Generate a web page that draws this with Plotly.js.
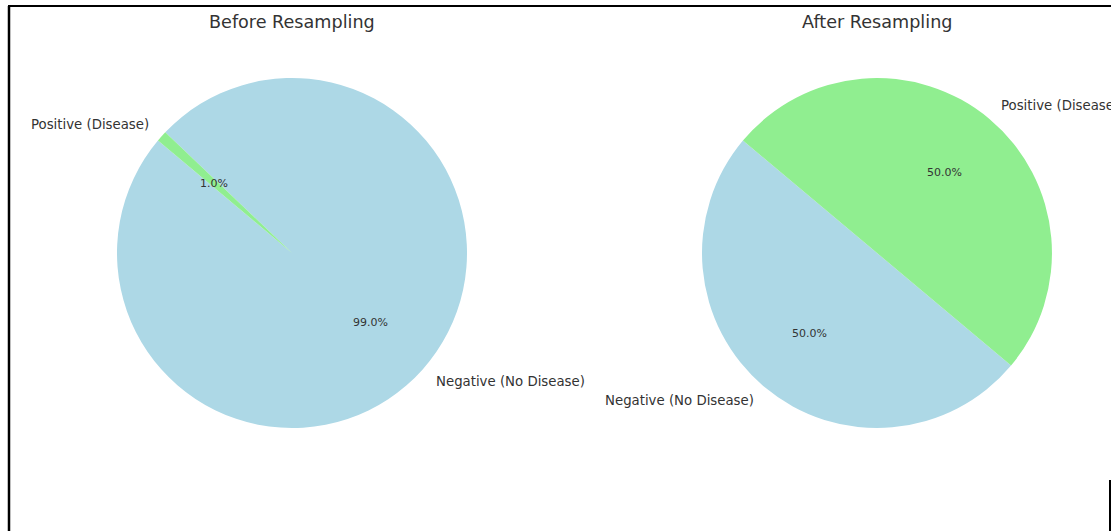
<!DOCTYPE html>
<html>
<head>
<meta charset="utf-8">
<script src="https://cdn.plot.ly/plotly-3.0.1.min.js"></script>
<style>html,body{margin:0;padding:0;background:#fff;}#chart{width:1111px;height:531px;}</style>
</head>
<body>
<div id="chart"></div>
<script>
// ---- data ----
const categories = ['Negative (No Disease)', 'Positive (Disease)'];
const beforeValues = [99, 1];
const afterValues = [50, 50];
const pieTitles = ['Before Resampling', 'After Resampling'];

// ---- style / layout ----
const W = 1111, H = 531;
const sliceColors = ['#ADD8E6', '#90EE90'];
const textColor = '#333333';
const fontFam = 'DejaVu Sans, sans-serif';
const startAngle = 140; // degrees, counterclockwise from 3 o'clock (first slice starts here)
const R = 175;
const centers = [[292, 253], [877, 253]];

const series = [beforeValues, afterValues];
const traces = [];
const annotations = [];

series.forEach((vals, i) => {
  const [cx, cy] = centers[i];
  const total = vals.reduce((a, b) => a + b, 0);
  // plotly (counterclockwise): first slice occupies [rotation, rotation + v] measured clockwise from 12 o'clock
  let rot = 90 - startAngle - vals[0] / total * 360;
  while (rot < -360) rot += 360;
  while (rot > 360) rot -= 360;
  traces.push({
    type: 'pie',
    labels: categories,
    values: vals,
    sort: false,
    direction: 'counterclockwise',
    rotation: rot,
    textinfo: 'none',
    marker: {colors: sliceColors, line: {width: 0}},
    showlegend: false,
    domain: {x: [(cx - R) / W, (cx + R) / W], y: [(H - cy - R) / H, (H - cy + R) / H]}
  });
  let a0 = startAngle;
  vals.forEach((v, k) => {
    const span = v / total * 360;
    const mid = (a0 + span / 2) * Math.PI / 180;
    a0 += span;
    const cosA = Math.cos(mid), sinA = Math.sin(mid);
    // category label at 1.1 R
    const lx = cx + 1.1 * R * cosA, ly = cy - 1.1 * R * sinA;
    annotations.push({
      xref: 'paper', yref: 'paper', x: lx / W, y: 1 - ly / H,
      xanchor: cosA >= 0 ? 'left' : 'right', yanchor: 'middle',
      xshift: cosA >= 0 ? -2 : 2.5,
      text: categories[k], showarrow: false,
      font: {family: fontFam, size: 13.3, color: textColor}
    });
    // percentage at 0.6 R
    const px = cx + 0.6 * R * cosA, py = cy - 0.6 * R * sinA;
    annotations.push({
      xref: 'paper', yref: 'paper', x: px / W, y: 1 - py / H,
      xanchor: 'center', yanchor: 'middle',
      text: (v / total * 100).toFixed(1) + '%', showarrow: false,
      font: {family: fontFam, size: 11, color: textColor}
    });
  });
  annotations.push({
    xref: 'paper', yref: 'paper', x: cx / W, y: 1 - 22 / H,
    xanchor: 'center', yanchor: 'middle',
    text: pieTitles[i], showarrow: false,
    font: {family: fontFam, size: 17.6, color: textColor}
  });
});

const layout = {
  width: W, height: H,
  margin: {l: 0, r: 0, t: 0, b: 0},
  paper_bgcolor: '#ffffff',
  plot_bgcolor: '#ffffff',
  annotations: annotations,
  shapes: [
    {type: 'line', xref: 'paper', yref: 'paper', x0: 8 / W, x1: 1, y0: 1 - 6 / H, y1: 1 - 6 / H, line: {color: '#000', width: 2}},
    {type: 'line', xref: 'paper', yref: 'paper', x0: 9 / W, x1: 9 / W, y0: 1 - 6 / H, y1: 0, line: {color: '#000', width: 2.5}},
    {type: 'line', xref: 'paper', yref: 'paper', x0: 1110 / W, x1: 1110 / W, y0: 1 - 480 / H, y1: 0, line: {color: '#000', width: 2}}
  ]
};

Plotly.newPlot('chart', traces, layout, {displayModeBar: false, staticPlot: true});
</script>
</body>
</html>
